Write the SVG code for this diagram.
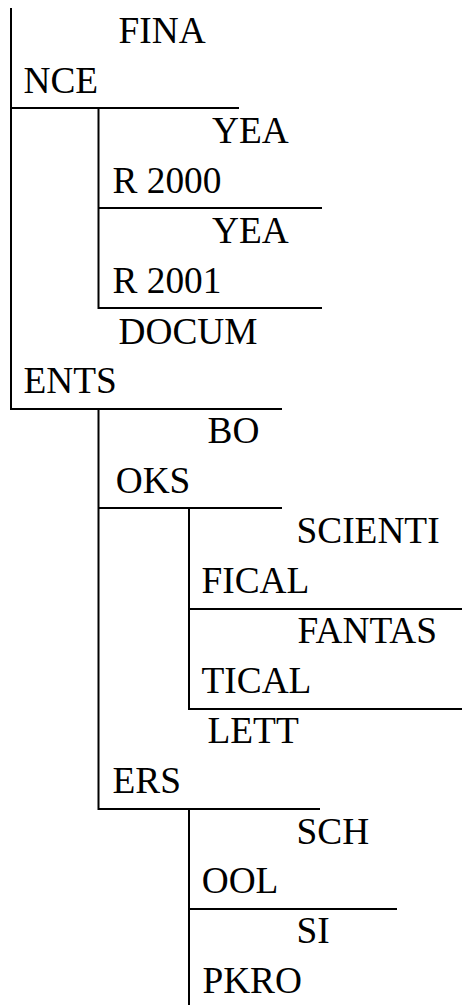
<svg xmlns="http://www.w3.org/2000/svg" width="463" height="1005" viewBox="0 0 463 1005">
<style>
.t{font-family:"Liberation Serif","Times New Roman",serif;font-size:37.33px;fill:#000}
.l{stroke:#000;stroke-width:2;fill:none}
</style>
<rect width="463" height="1005" fill="#fff"/>
<g id="connectors">
<line class="l" x1="11" y1="8" x2="11" y2="410"/>
<line class="l" x1="98.5" y1="108" x2="98.5" y2="309"/>
<line class="l" x1="98.5" y1="409" x2="98.5" y2="810"/>
<line class="l" x1="189" y1="508" x2="189" y2="710"/>
<line class="l" x1="189" y1="809" x2="189" y2="1005"/>
</g>
<g id="finance">
<text class="t" x="118.5" y="43">FINA</text>
<text class="t" x="23.5" y="93">NCE</text>
<line class="l" x1="10" y1="108" x2="239" y2="108"/>
</g>
<g id="year2000">
<text class="t" x="212" y="143">YEA</text>
<text class="t" x="112.5" y="193">R 2000</text>
<line class="l" x1="98" y1="208" x2="322" y2="208"/>
</g>
<g id="year2001">
<text class="t" x="212" y="243">YEA</text>
<text class="t" x="112.5" y="293">R 2001</text>
<line class="l" x1="98" y1="308" x2="322" y2="308"/>
</g>
<g id="documents">
<text class="t" x="118.5" y="344">DOCUM</text>
<text class="t" x="23.5" y="393">ENTS</text>
<line class="l" x1="10" y1="409" x2="282" y2="409"/>
</g>
<g id="books">
<text class="t" x="207.5" y="443">BO</text>
<text class="t" x="115.7" y="493">OKS</text>
<line class="l" x1="98" y1="508" x2="282" y2="508"/>
</g>
<g id="scientifical">
<text class="t" x="296.5" y="543">SCIENTI</text>
<text class="t" x="201.5" y="593">FICAL</text>
<line class="l" x1="188" y1="609" x2="462" y2="609"/>
</g>
<g id="fantastical">
<text class="t" x="297.5" y="643">FANTAS</text>
<text class="t" x="201.5" y="693">TICAL</text>
<line class="l" x1="188" y1="709" x2="462" y2="709"/>
</g>
<g id="letters">
<text class="t" x="207.5" y="743">LETT</text>
<text class="t" x="112.5" y="793">ERS</text>
<line class="l" x1="98" y1="809" x2="320" y2="809"/>
</g>
<g id="school">
<text class="t" x="296.5" y="844">SCH</text>
<text class="t" x="201.7" y="893">OOL</text>
<line class="l" x1="188" y1="909" x2="397" y2="909"/>
</g>
<g id="sipkro">
<text class="t" x="296.5" y="943">SI</text>
<text class="t" x="202.4" y="993">PKRO</text>
</g>
</svg>
